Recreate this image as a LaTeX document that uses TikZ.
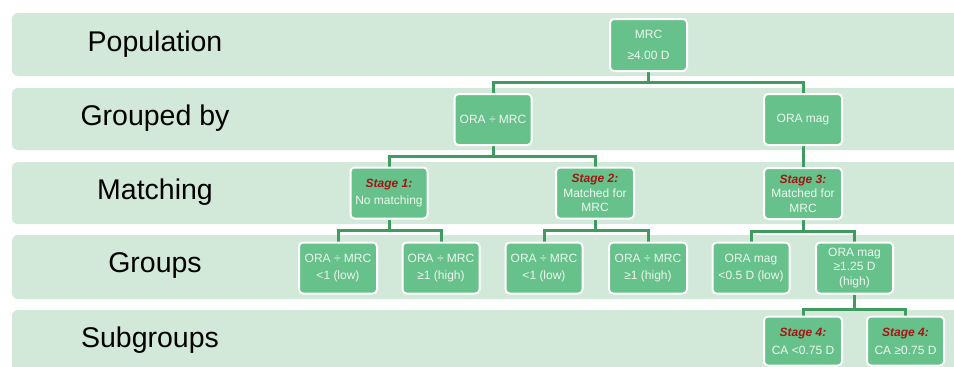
\documentclass[tikz,border=0pt]{standalone}
\usepackage{fontspec}
\setmainfont{Liberation Sans}
\definecolor{bandc}{HTML}{D2E9DA}
\definecolor{boxc}{HTML}{66C18A}
\definecolor{linec}{HTML}{3F9B5F}
\definecolor{stagec}{HTML}{A51515}
\definecolor{boxtext}{HTML}{EEF7F0}
\pgfdeclarelayer{bg}
\pgfdeclarelayer{conn}
\pgfsetlayers{bg,conn,main}
\tikzset{
  band/.style={fill=bandc},
  rowlabel/.style={font=\fontsize{28.5}{30}\selectfont, text=black, anchor=center, inner sep=0pt},
  box/.style={draw=white, line width=2pt, fill=boxc, rounded corners=4pt, text=boxtext,
    font=\fontsize{12}{16}\selectfont, align=center, inner sep=0pt,
    minimum width=77pt, minimum height=51pt},
  conn/.style={draw=linec, line width=3pt},
}
\newcommand{\stg}[1]{{\color{stagec}\bfseries\itshape Stage #1:}}
\begin{document}
\begin{tikzpicture}[x=1pt,y=-1pt]
\useasboundingbox (0,0) rectangle (954,367);
\begin{pgfonlayer}{bg}
\fill[white] (0,0) rectangle (954,367);
\fill[band] (954,13) [rounded corners=6pt] -- (12,13) -- (12,76) [sharp corners] -- (954,76) -- cycle;
\fill[band] (954,88) [rounded corners=6pt] -- (12,88) -- (12,150) [sharp corners] -- (954,150) -- cycle;
\fill[band] (954,162) [rounded corners=6pt] -- (12,162) -- (12,224) [sharp corners] -- (954,224) -- cycle;
\fill[band] (954,235) [rounded corners=6pt] -- (12,235) -- (12,299) [sharp corners] -- (954,299) -- cycle;
\fill[band] (954,310) [rounded corners=6pt] -- (12,310) [sharp corners] -- (12,367) -- (954,367) -- cycle;
\end{pgfonlayer}
% row labels
\node[rowlabel] (lpop) at (155,44) {Population};
\node[rowlabel] (lgrp) at (155,118) {Grouped by};
\node[rowlabel] (lmat) at (155,192) {Matching};
\node[rowlabel] (lgroups) at (155,266) {Groups};
\node[rowlabel] (lsub) at (150,340) {Subgroups};
% boxes
\node[box, font=\fontsize{12}{21}\selectfont, minimum width=77pt, minimum height=52pt] (mrc) at (648.5,45) {MRC\\≥4.00 D};
\node[box] (ora1) at (493,119.5) {ORA ÷ MRC};
\node[box, minimum width=78pt] (ora2) at (803,119.5) {ORA mag};
\node[box, font=\fontsize{12}{17}\selectfont] (st1) at (389,193) {\stg{1}\\No matching};
\node[box, font=\fontsize{12}{14.5}\selectfont, minimum width=78pt] (st2) at (595,193) {\stg{2}\\Matched for\\MRC};
\node[box, font=\fontsize{12}{14.5}\selectfont, minimum width=78pt] (st3) at (803,193.5) {\stg{3}\\Matched for\\MRC};
\node[box, font=\fontsize{12}{17}\selectfont, minimum width=78pt] (g1) at (338,268) {ORA ÷ MRC\\<1 (low)};
\node[box, font=\fontsize{12}{17}\selectfont] (g2) at (441,268) {ORA ÷ MRC\\≥1 (high)};
\node[box, font=\fontsize{12}{17}\selectfont] (g3) at (544,268) {ORA ÷ MRC\\<1 (low)};
\node[box, font=\fontsize{12}{17}\selectfont, minimum width=78pt] (g4) at (648,268) {ORA ÷ MRC\\≥1 (high)};
\node[box, font=\fontsize{12}{17}\selectfont] (g5) at (751,268) {ORA mag\\<0.5 D (low)};
\node[box, font=\fontsize{12}{14.5}\selectfont] (g6) at (854.5,268) {ORA mag\\≥1.25 D\\(high)};
\node[box, font=\fontsize{12}{18}\selectfont, minimum width=78pt, minimum height=49pt] (s1) at (803,341) {\stg{4}\\CA <0.75 D};
\node[box, font=\fontsize{12}{18}\selectfont, minimum height=49pt] (s2) at (905.5,341) {\stg{4}\\CA ≥0.75 D};
% connectors
\begin{pgfonlayer}{conn}
\draw[conn] (mrc.south) -- ++(0,10) -| (ora1.north);
\draw[conn] (mrc.south) -- ++(0,10) -| (ora2.north);
\draw[conn] (ora1.south) -- ++(0,10) -| (st1.north);
\draw[conn] (ora1.south) -- ++(0,10) -| (st2.north);
\draw[conn] (ora2.south) -- (st3.north);
\draw[conn] (st1.south) -- ++(0,11) -| (g1.north);
\draw[conn] (st1.south) -- ++(0,11) -| (g2.north);
\draw[conn] (st2.south) -- ++(0,11) -| (g3.north);
\draw[conn] (st2.south) -- ++(0,11) -| (g4.north);
\draw[conn] (st3.south) -- ++(0,11) -| (g5.north);
\draw[conn] (st3.south) -- ++(0,11) -| (g6.north);
\draw[conn] (g6.south) -- ++(0,15) -| (s1.north);
\draw[conn] (g6.south) -- ++(0,15) -| (s2.north);
\end{pgfonlayer}
\end{tikzpicture}
\end{document}
